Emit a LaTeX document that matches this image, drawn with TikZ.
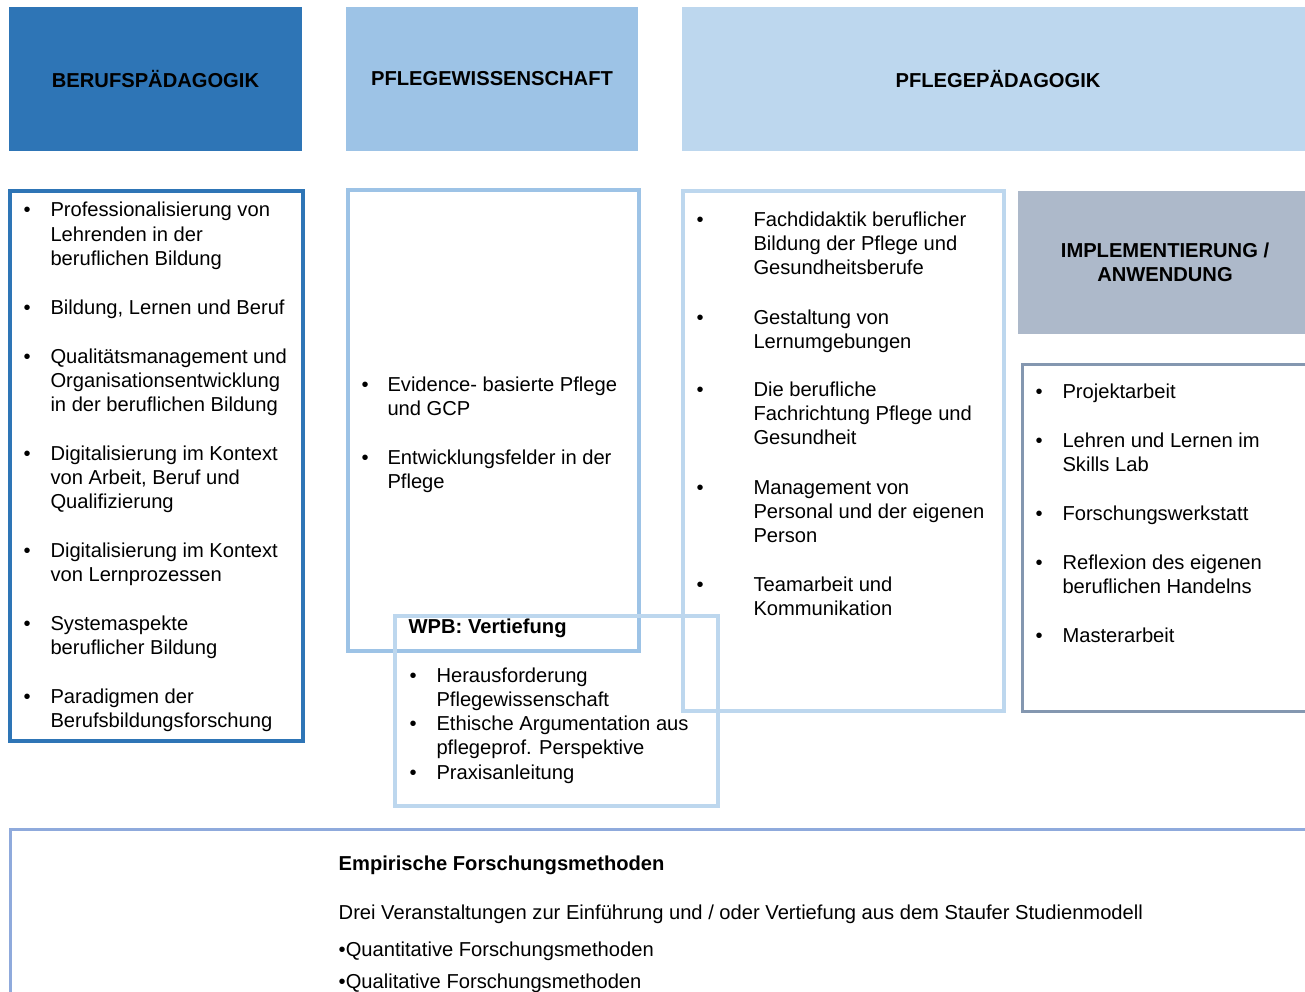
\documentclass[tikz,border=0pt]{standalone}
\usepackage{fontspec}
\setmainfont{Liberation Sans}
\definecolor{cdark}{HTML}{2E75B6}
\definecolor{cmid}{HTML}{9DC3E6}
\definecolor{clight}{HTML}{BDD7EE}
\definecolor{cgray}{HTML}{ADB9CA}
\definecolor{cgrayline}{HTML}{8497B0}
\definecolor{cbottom}{HTML}{8FAADC}
\tikzset{
  txt/.style={anchor=base west, inner sep=0pt, align=left, font=\fontsize{20.15}{24.4}\selectfont},
  btxt/.style={txt, font=\fontsize{20.15}{24.4}\selectfont\bfseries},
  head/.style={anchor=north west, inner sep=0pt, outer sep=0pt, align=center, font=\fontsize{20.15}{24.4}\selectfont\bfseries},
  frame/.style={anchor=north west, inner sep=0pt, outer sep=0pt, draw, line width=4pt},
  thinframe/.style={anchor=north west, inner sep=0pt, outer sep=0pt, draw, line width=3pt},
}
% name, bullet x, text x, first-line y, number of lines, text
\newcommand\itm[6]{%
  \node[txt] (#1b) at (#2-3.5,#4+7) {•};
  \node[txt] (#1) at (#3-0.7,#4+7+24.4*#5-24.4) {#6};}
\begin{document}
\begin{tikzpicture}[x=1pt,y=-1pt]
\useasboundingbox (0,0) rectangle (1305,992);
\clip (0,0) rectangle (1305,992);
% headers
\node[head, fill=cdark, minimum width=293pt, minimum height=144pt] (h1) at (9,7) {BERUFSPÄDAGOGIK};
\node[head, fill=cmid, minimum width=292pt, minimum height=144pt] (h2) at (346,7) {PFLEGEWISSENSCHAFT};
\node[head, fill=clight, minimum width=632pt, minimum height=144pt] (h3) at (682,7) {PFLEGEPÄDAGOGIK};
\node[head, fill=cgray, minimum width=294pt, minimum height=143pt] (h4) at (1018,191) {IMPLEMENTIERUNG /\\ANWENDUNG};
% frames
\node[frame, draw=cdark, minimum width=293.5pt, minimum height=550pt] (box1) at (9.5,191) {};
\node[frame, draw=cmid, minimum width=291pt, minimum height=461pt] (box2) at (347.5,190) {};
\node[frame, draw=clight, minimum width=321pt, minimum height=520pt] (box3) at (683,191) {};
\node[thinframe, draw=cgrayline, minimum width=320pt, minimum height=347pt] (box5) at (1022,364) {};
\node[frame, draw=clight, minimum width=323pt, minimum height=190pt] (wpb) at (395,616) {};
\node[thinframe, draw=cbottom, minimum width=1400pt, minimum height=300pt] (bottom) at (10,829) {};
% box 1
\itm{pa}{27}{51}{210}{3}{Professionalisierung von\\Lehrenden in der\\beruflichen Bildung}
\itm{pb}{27}{51}{307}{1}{Bildung, Lernen und Beruf}
\itm{pc}{27}{51}{356}{3}{Qualitätsmanagement und\\Organisationsentwicklung\\in der beruflichen Bildung}
\itm{pd}{27}{51}{453}{3}{Digitalisierung im Kontext\\von Arbeit, Beruf und\\Qualifizierung}
\itm{pe}{27}{51}{550}{2}{Digitalisierung im Kontext\\von Lernprozessen}
\itm{pf}{27}{51}{623}{2}{Systemaspekte\\beruflicher Bildung}
\itm{pg}{27}{51}{696}{2}{Paradigmen der\\Berufsbildungsforschung}
% box 2
\itm{qa}{365}{388}{384}{2}{Evidence- basierte Pflege\\und GCP}
\itm{qb}{365}{388}{457}{2}{Entwicklungsfelder in der\\Pflege}
% box 3
\itm{ra}{700}{754}{219}{3}{Fachdidaktik beruflicher\\Bildung der Pflege und\\Gesundheitsberufe}
\itm{rb}{700}{754}{317}{2}{Gestaltung von\\Lernumgebungen}
\itm{rc}{700}{754}{389}{3}{Die berufliche\\Fachrichtung Pflege und\\Gesundheit}
\itm{rd}{700}{754}{487}{3}{Management von\\Personal und der eigenen\\Person}
\itm{re}{700}{754}{584}{2}{Teamarbeit und\\Kommunikation}
% box 5
\itm{sa}{1039}{1063}{391}{1}{Projektarbeit}
\itm{sb}{1039}{1063}{440}{2}{Lehren und Lernen im\\Skills Lab}
\itm{sc}{1039}{1063}{513}{1}{Forschungswerkstatt}
\itm{sd}{1039}{1063}{562}{2}{Reflexion des eigenen\\beruflichen Handelns}
\itm{se}{1039}{1063}{635}{1}{Masterarbeit}
% WPB
\node[btxt] (wpbtitle) at (408.5,633) {WPB: Vertiefung};
\itm{ta}{413}{437}{675}{2}{Herausforderung\\Pflegewissenschaft}
\itm{tb}{413}{437}{723}{2}{Ethische Argumentation aus\\pflegeprof. Perspektive}
\itm{tc}{413}{437}{772}{1}{Praxisanleitung}
% bottom
\node[btxt] (emp) at (338.5,870) {Empirische Forschungsmethoden};
\node[txt] (drei) at (338.5,919) {Drei Veranstaltungen zur Einführung und / oder Vertiefung aus dem Staufer Studienmodell};
\node[txt] (quan) at (338.5,956) {•Quantitative Forschungsmethoden};
\node[txt] (qual) at (338.5,988) {•Qualitative Forschungsmethoden};
\end{tikzpicture}
\end{document}
